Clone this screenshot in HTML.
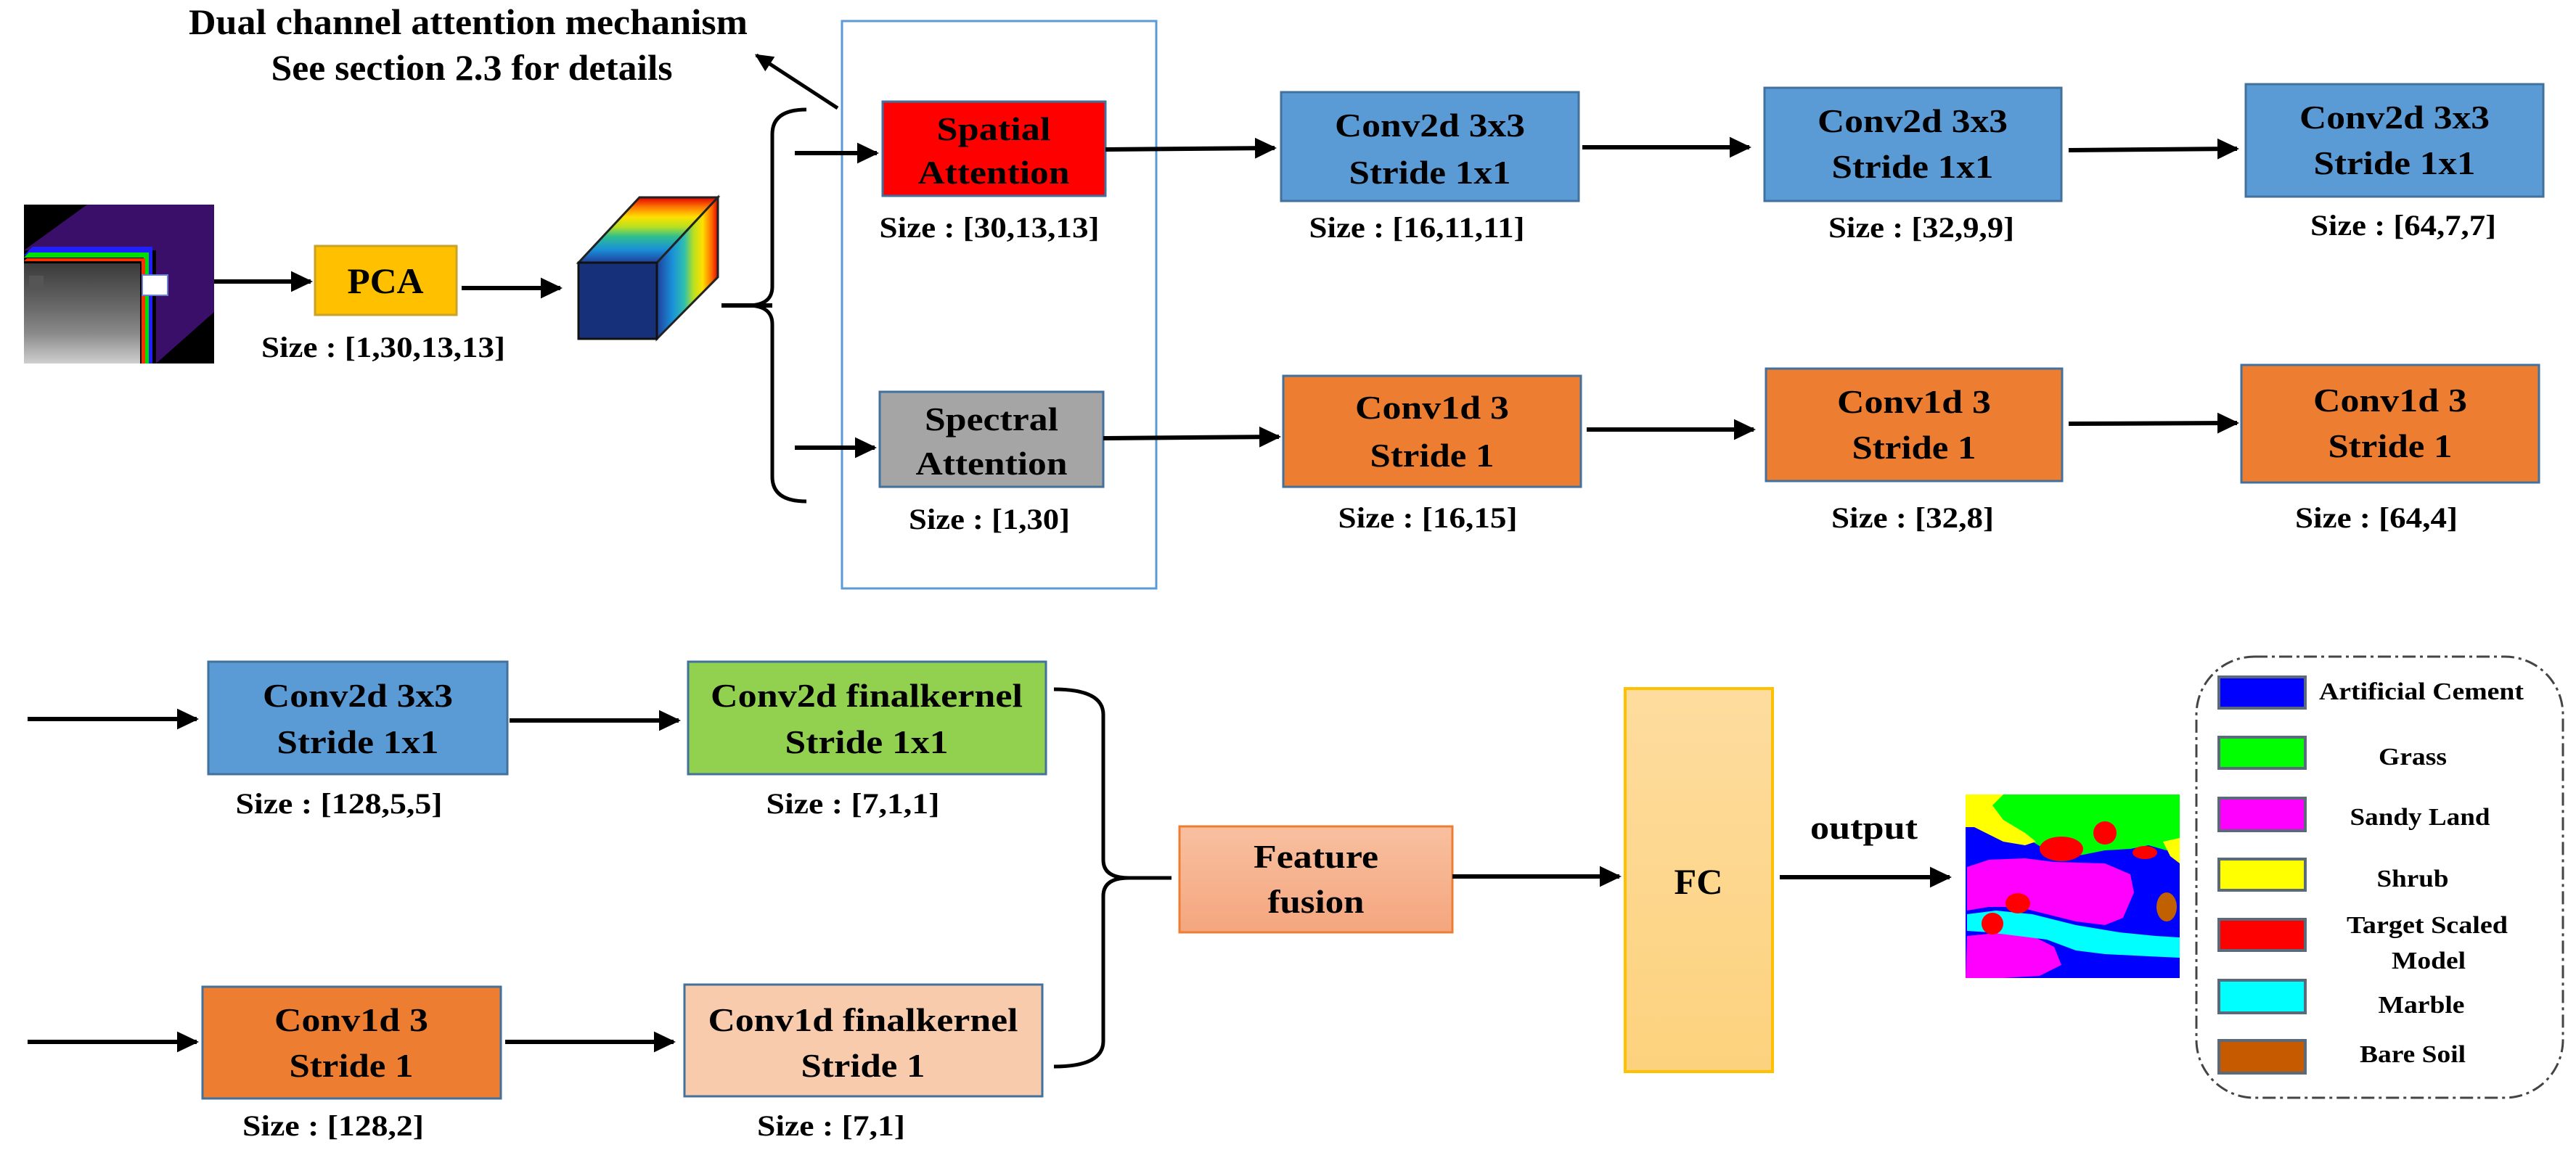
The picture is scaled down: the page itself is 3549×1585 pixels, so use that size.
<!DOCTYPE html>
<html><head><meta charset="utf-8"><style>
html,body{margin:0;padding:0;background:#fff;}
svg{display:block;}
text{font-family:"Liberation Serif",serif;font-weight:bold;fill:#000;}
</style></head><body>
<svg width="3549" height="1585" viewBox="0 0 3549 1585" xmlns="http://www.w3.org/2000/svg">
<defs>
<marker id="ah" markerWidth="6" markerHeight="6" refX="4.5" refY="3" orient="auto" markerUnits="strokeWidth">
<path d="M0,0.6 L5,3 L0,5.4 Z" fill="#000"/>
</marker>
<linearGradient id="topg" x1="0" y1="1" x2="0" y2="0">
<stop offset="0" stop-color="#1f3f9a"/><stop offset="0.2" stop-color="#1a8fd8"/><stop offset="0.4" stop-color="#2fbf8f"/><stop offset="0.55" stop-color="#b8e020"/><stop offset="0.7" stop-color="#ffe000"/><stop offset="0.85" stop-color="#ff7a00"/><stop offset="1" stop-color="#e00000"/>
</linearGradient>
<linearGradient id="sideg" x1="0" y1="0" x2="1" y2="0">
<stop offset="0" stop-color="#1f3f9a"/><stop offset="0.25" stop-color="#1a8fd8"/><stop offset="0.45" stop-color="#2fbfaf"/><stop offset="0.6" stop-color="#b8e020"/><stop offset="0.75" stop-color="#ffe000"/><stop offset="0.9" stop-color="#ff6a00"/><stop offset="1" stop-color="#e00000"/>
</linearGradient>
<linearGradient id="ffg" x1="0" y1="0" x2="0" y2="1"><stop offset="0" stop-color="#f8c0a0"/><stop offset="1" stop-color="#f4a67e"/></linearGradient>
<linearGradient id="fcg" x1="0" y1="0" x2="0" y2="1"><stop offset="0" stop-color="#fddc9e"/><stop offset="1" stop-color="#fdd27e"/></linearGradient>
<linearGradient id="grayg" x1="0" y1="0" x2="0" y2="1"><stop offset="0" stop-color="#3a3a3a"/><stop offset="0.45" stop-color="#6a6a6a"/><stop offset="0.7" stop-color="#8a8a8a"/><stop offset="1" stop-color="#cfcfcf"/></linearGradient>
</defs>

<!-- Title text -->
<text x="645" y="47" font-size="50" text-anchor="middle" textLength="770" lengthAdjust="spacingAndGlyphs">Dual channel attention mechanism</text>
<text x="650" y="110" font-size="50" text-anchor="middle" textLength="553" lengthAdjust="spacingAndGlyphs">See section 2.3 for details</text>
<line x1="1154" y1="149" x2="1042" y2="76" stroke="#000" stroke-width="5" marker-end="url(#ah)"/>

<!-- attention frame -->
<rect x="1160" y="29" width="433" height="782" fill="none" stroke="#5b9bd5" stroke-width="3"/>

<!-- hyperspectral cube image -->
<rect x="33" y="282" width="262" height="219" fill="#000"/>
<polygon points="33,345 120,282 295,282 295,430 215,501 215,345" fill="#3a0f6a"/>
<polygon points="33,352 45,340 210,340 210,501 200,501 200,352" fill="#2020ff"/>
<polygon points="33,355 40,348 205,348 205,501 198,501 198,355" fill="#00e000"/>
<polygon points="33,360 37,356 200,356 200,501 195,501 195,360" fill="#ff3000"/>
<rect x="33" y="363" width="160" height="138" fill="url(#grayg)"/>
<rect x="196" y="379" width="35" height="28" fill="#fff" stroke="#6a7fd0" stroke-width="2"/>
<rect x="40" y="380" width="20" height="20" fill="#555"/>

<line x1="295" y1="388" x2="428" y2="388" stroke="#000" stroke-width="6" marker-end="url(#ah)"/>
<rect x="434" y="339" width="195" height="95" fill="#ffc000" stroke="#c9a227" stroke-width="3"/>
<text x="531" y="404" font-size="50" text-anchor="middle" textLength="105" lengthAdjust="spacingAndGlyphs">PCA</text>
<text x="528" y="492" font-size="40" text-anchor="middle" textLength="336" lengthAdjust="spacingAndGlyphs">Size :  [1,30,13,13]</text>
<line x1="636" y1="397" x2="772" y2="397" stroke="#000" stroke-width="6" marker-end="url(#ah)"/>

<!-- rainbow cube -->
<polygon points="797,362 905,362 989,272 881,272" fill="url(#topg)" stroke="#222" stroke-width="3"/>
<polygon points="905,362 989,272 989,382 905,467" fill="url(#sideg)" stroke="#222" stroke-width="3"/>
<rect x="797" y="362" width="108" height="105" fill="#17307a" stroke="#111" stroke-width="3"/>

<line x1="994" y1="421" x2="1064" y2="421" stroke="#000" stroke-width="6"/>
<path d="M1111,151 Q1064,151 1064,185 L1064,395 Q1064,421 1030,421 M1111,691 Q1064,691 1064,657 L1064,447 Q1064,421 1030,421" fill="none" stroke="#000" stroke-width="5"/>

<line x1="1095" y1="211" x2="1208" y2="211" stroke="#000" stroke-width="6" marker-end="url(#ah)"/>
<line x1="1095" y1="617" x2="1205" y2="617" stroke="#000" stroke-width="6" marker-end="url(#ah)"/>

<rect x="1216" y="140" width="307" height="130" fill="#ff0000" stroke="#41719c" stroke-width="3"/>
<text x="1369" y="193" font-size="46" text-anchor="middle" textLength="157" lengthAdjust="spacingAndGlyphs">Spatial</text>
<text x="1369" y="253" font-size="46" text-anchor="middle" textLength="209" lengthAdjust="spacingAndGlyphs">Attention</text>
<text x="1363" y="327" font-size="40" text-anchor="middle" textLength="303" lengthAdjust="spacingAndGlyphs">Size :  [30,13,13]</text>

<rect x="1212" y="540" width="308" height="131" fill="#a5a5a5" stroke="#41719c" stroke-width="3"/>
<text x="1366" y="593" font-size="46" text-anchor="middle" textLength="184" lengthAdjust="spacingAndGlyphs">Spectral</text>
<text x="1366" y="654" font-size="46" text-anchor="middle" textLength="209" lengthAdjust="spacingAndGlyphs">Attention</text>
<text x="1363" y="729" font-size="40" text-anchor="middle" textLength="222" lengthAdjust="spacingAndGlyphs">Size :  [1,30]</text>

<!-- row 1 conv2d -->
<line x1="1523" y1="206" x2="1756" y2="204" stroke="#000" stroke-width="6" marker-end="url(#ah)"/>
<rect x="1765" y="127" width="410" height="150" fill="#5b9bd5" stroke="#41719c" stroke-width="3"/>
<text x="1970" y="188" font-size="46" text-anchor="middle" textLength="262" lengthAdjust="spacingAndGlyphs">Conv2d 3x3</text>
<text x="1970" y="253" font-size="46" text-anchor="middle" textLength="223" lengthAdjust="spacingAndGlyphs">Stride 1x1</text>
<text x="1952" y="327" font-size="40" text-anchor="middle" textLength="297" lengthAdjust="spacingAndGlyphs">Size :  [16,11,11]</text>

<line x1="2180" y1="203" x2="2410" y2="203" stroke="#000" stroke-width="6" marker-end="url(#ah)"/>
<rect x="2431" y="121" width="409" height="156" fill="#5b9bd5" stroke="#41719c" stroke-width="3"/>
<text x="2635" y="182" font-size="46" text-anchor="middle" textLength="262" lengthAdjust="spacingAndGlyphs">Conv2d 3x3</text>
<text x="2635" y="245" font-size="46" text-anchor="middle" textLength="223" lengthAdjust="spacingAndGlyphs">Stride 1x1</text>
<text x="2647" y="327" font-size="40" text-anchor="middle" textLength="256" lengthAdjust="spacingAndGlyphs">Size :  [32,9,9]</text>

<line x1="2850" y1="207" x2="3082" y2="205" stroke="#000" stroke-width="6" marker-end="url(#ah)"/>
<rect x="3094" y="116" width="410" height="155" fill="#5b9bd5" stroke="#41719c" stroke-width="3"/>
<text x="3299" y="177" font-size="46" text-anchor="middle" textLength="262" lengthAdjust="spacingAndGlyphs">Conv2d 3x3</text>
<text x="3299" y="240" font-size="46" text-anchor="middle" textLength="223" lengthAdjust="spacingAndGlyphs">Stride 1x1</text>
<text x="3311" y="324" font-size="40" text-anchor="middle" textLength="256" lengthAdjust="spacingAndGlyphs">Size :  [64,7,7]</text>

<!-- row 2 conv1d -->
<line x1="1520" y1="604" x2="1762" y2="602" stroke="#000" stroke-width="6" marker-end="url(#ah)"/>
<rect x="1768" y="518" width="410" height="153" fill="#ed7d31" stroke="#41719c" stroke-width="3"/>
<text x="1973" y="577" font-size="46" text-anchor="middle" textLength="212" lengthAdjust="spacingAndGlyphs">Conv1d 3</text>
<text x="1973" y="643" font-size="46" text-anchor="middle" textLength="171" lengthAdjust="spacingAndGlyphs">Stride 1</text>
<text x="1967" y="727" font-size="40" text-anchor="middle" textLength="247" lengthAdjust="spacingAndGlyphs">Size :  [16,15]</text>

<line x1="2186" y1="592" x2="2416" y2="592" stroke="#000" stroke-width="6" marker-end="url(#ah)"/>
<rect x="2433" y="508" width="408" height="155" fill="#ed7d31" stroke="#41719c" stroke-width="3"/>
<text x="2637" y="569" font-size="46" text-anchor="middle" textLength="212" lengthAdjust="spacingAndGlyphs">Conv1d 3</text>
<text x="2637" y="632" font-size="46" text-anchor="middle" textLength="171" lengthAdjust="spacingAndGlyphs">Stride 1</text>
<text x="2635" y="727" font-size="40" text-anchor="middle" textLength="224" lengthAdjust="spacingAndGlyphs">Size :  [32,8]</text>

<line x1="2850" y1="584" x2="3082" y2="583" stroke="#000" stroke-width="6" marker-end="url(#ah)"/>
<rect x="3088" y="503" width="410" height="162" fill="#ed7d31" stroke="#41719c" stroke-width="3"/>
<text x="3293" y="567" font-size="46" text-anchor="middle" textLength="212" lengthAdjust="spacingAndGlyphs">Conv1d 3</text>
<text x="3293" y="630" font-size="46" text-anchor="middle" textLength="171" lengthAdjust="spacingAndGlyphs">Stride 1</text>
<text x="3274" y="727" font-size="40" text-anchor="middle" textLength="224" lengthAdjust="spacingAndGlyphs">Size :  [64,4]</text>

<!-- bottom section -->
<line x1="38" y1="991" x2="271" y2="991" stroke="#000" stroke-width="6" marker-end="url(#ah)"/>
<rect x="287" y="912" width="412" height="155" fill="#5b9bd5" stroke="#41719c" stroke-width="3"/>
<text x="493" y="974" font-size="46" text-anchor="middle" textLength="262" lengthAdjust="spacingAndGlyphs">Conv2d 3x3</text>
<text x="493" y="1038" font-size="46" text-anchor="middle" textLength="223" lengthAdjust="spacingAndGlyphs">Stride 1x1</text>
<text x="467" y="1121" font-size="40" text-anchor="middle" textLength="285" lengthAdjust="spacingAndGlyphs">Size :  [128,5,5]</text>

<line x1="702" y1="993" x2="935" y2="993" stroke="#000" stroke-width="6" marker-end="url(#ah)"/>
<rect x="948" y="912" width="493" height="155" fill="#92d050" stroke="#41719c" stroke-width="3"/>
<text x="1194" y="974" font-size="46" text-anchor="middle" textLength="430" lengthAdjust="spacingAndGlyphs">Conv2d finalkernel</text>
<text x="1194" y="1038" font-size="46" text-anchor="middle" textLength="225" lengthAdjust="spacingAndGlyphs">Stride 1x1</text>
<text x="1175" y="1121" font-size="40" text-anchor="middle" textLength="239" lengthAdjust="spacingAndGlyphs">Size :  [7,1,1]</text>

<line x1="38" y1="1436" x2="271" y2="1436" stroke="#000" stroke-width="6" marker-end="url(#ah)"/>
<rect x="279" y="1360" width="411" height="154" fill="#ed7d31" stroke="#41719c" stroke-width="3"/>
<text x="484" y="1421" font-size="46" text-anchor="middle" textLength="212" lengthAdjust="spacingAndGlyphs">Conv1d 3</text>
<text x="484" y="1484" font-size="46" text-anchor="middle" textLength="171" lengthAdjust="spacingAndGlyphs">Stride 1</text>
<text x="459" y="1565" font-size="40" text-anchor="middle" textLength="250" lengthAdjust="spacingAndGlyphs">Size :  [128,2]</text>

<line x1="696" y1="1436" x2="928" y2="1436" stroke="#000" stroke-width="6" marker-end="url(#ah)"/>
<rect x="943" y="1357" width="493" height="154" fill="#f8cbad" stroke="#41719c" stroke-width="3"/>
<text x="1189" y="1421" font-size="46" text-anchor="middle" textLength="427" lengthAdjust="spacingAndGlyphs">Conv1d finalkernel</text>
<text x="1189" y="1484" font-size="46" text-anchor="middle" textLength="171" lengthAdjust="spacingAndGlyphs">Stride 1</text>
<text x="1145" y="1565" font-size="40" text-anchor="middle" textLength="204" lengthAdjust="spacingAndGlyphs">Size :  [7,1]</text>

<path d="M1452,950 Q1520,950 1520,985 L1520,1185 Q1520,1210 1555,1210 L1614,1210 M1452,1470 Q1520,1470 1520,1435 L1520,1235 Q1520,1210 1555,1210" fill="none" stroke="#000" stroke-width="5"/>

<rect x="1625" y="1139" width="376" height="146" fill="url(#ffg)" stroke="#ed7d31" stroke-width="3"/>
<text x="1813" y="1196" font-size="46" text-anchor="middle" textLength="172" lengthAdjust="spacingAndGlyphs">Feature</text>
<text x="1813" y="1258" font-size="46" text-anchor="middle" textLength="133" lengthAdjust="spacingAndGlyphs">fusion</text>

<line x1="2001" y1="1208" x2="2231" y2="1208" stroke="#000" stroke-width="6" marker-end="url(#ah)"/>
<rect x="2239" y="949" width="203" height="528" fill="url(#fcg)" stroke="#ffc000" stroke-width="4"/>
<text x="2340" y="1232" font-size="50" text-anchor="middle" textLength="67" lengthAdjust="spacingAndGlyphs">FC</text>
<text x="2568" y="1156" font-size="46" text-anchor="middle" textLength="148" lengthAdjust="spacingAndGlyphs">output</text>
<line x1="2452" y1="1209" x2="2686" y2="1209" stroke="#000" stroke-width="6" marker-end="url(#ah)"/>

<!-- classification map -->
<g>
<rect x="2708" y="1095" width="295" height="253" fill="#0000ff"/>
<path d="M2745,1095 L3003,1095 L3003,1170 L2985,1172 L2960,1165 L2935,1170 L2900,1172 L2870,1178 L2845,1182 L2820,1172 L2800,1160 L2780,1152 L2760,1140 L2745,1125 Z" fill="#00ff00"/>
<path d="M2708,1095 L2760,1095 L2745,1110 L2760,1130 L2790,1148 L2805,1160 L2790,1165 L2760,1160 L2740,1150 L2720,1140 L2708,1140 Z" fill="#ffff00"/>
<path d="M2980,1160 L3003,1155 L3003,1190 L2990,1180 Z" fill="#ffff00"/>
<path d="M2710,1195 L2740,1185 L2790,1183 L2830,1188 L2900,1190 L2935,1205 L2940,1230 L2925,1265 L2900,1275 L2860,1270 L2820,1260 L2780,1250 L2740,1250 L2710,1255 Z" fill="#ff00ff"/>
<path d="M2710,1290 L2760,1285 L2800,1290 L2830,1305 L2840,1330 L2810,1345 L2760,1348 L2708,1348 Z" fill="#ff00ff"/>
<path d="M2710,1260 L2750,1255 L2800,1260 L2860,1275 L2920,1285 L2970,1290 L3003,1292 L3003,1320 L2960,1318 L2900,1315 L2860,1310 L2820,1295 L2780,1290 L2740,1285 L2710,1283 Z" fill="#00ffff"/>
<circle cx="2900" cy="1148" r="16" fill="#ff0000"/>
<ellipse cx="2840" cy="1170" rx="30" ry="17" fill="#ff0000"/>
<ellipse cx="2955" cy="1175" rx="17" ry="9" fill="#ff0000"/>
<ellipse cx="2780" cy="1245" rx="17" ry="14" fill="#ff0000"/>
<circle cx="2745" cy="1273" r="15" fill="#ff0000"/>
<ellipse cx="2985" cy="1250" rx="14" ry="20" fill="#c06000"/>
</g>

<!-- legend -->
<rect x="3026" y="905" width="505" height="608" rx="80" ry="80" fill="none" stroke="#444" stroke-width="3" stroke-dasharray="18,6,4,6"/>
<g stroke="#5a6a7a" stroke-width="4">
<rect x="3057" y="933" width="119" height="43" fill="#0000ff"/>
<rect x="3057" y="1016" width="119" height="43" fill="#00ff00"/>
<rect x="3057" y="1100" width="119" height="45" fill="#ff00ff"/>
<rect x="3057" y="1184" width="119" height="43" fill="#ffff00"/>
<rect x="3057" y="1267" width="119" height="43" fill="#ff0000"/>
<rect x="3057" y="1351" width="119" height="45" fill="#00ffff"/>
<rect x="3057" y="1434" width="119" height="45" fill="#c55a00"/>
</g>
<text x="3336" y="964" font-size="34" text-anchor="middle" textLength="282" lengthAdjust="spacingAndGlyphs">Artificial Cement</text>
<text x="3324" y="1054" font-size="34" text-anchor="middle" textLength="94" lengthAdjust="spacingAndGlyphs">Grass</text>
<text x="3334" y="1137" font-size="34" text-anchor="middle" textLength="193" lengthAdjust="spacingAndGlyphs">Sandy Land</text>
<text x="3324" y="1222" font-size="34" text-anchor="middle" textLength="99" lengthAdjust="spacingAndGlyphs">Shrub</text>
<text x="3344" y="1286" font-size="34" text-anchor="middle" textLength="222" lengthAdjust="spacingAndGlyphs">Target Scaled</text>
<text x="3346" y="1335" font-size="34" text-anchor="middle" textLength="102" lengthAdjust="spacingAndGlyphs">Model</text>
<text x="3336" y="1396" font-size="34" text-anchor="middle" textLength="119" lengthAdjust="spacingAndGlyphs">Marble</text>
<text x="3324" y="1464" font-size="34" text-anchor="middle" textLength="146" lengthAdjust="spacingAndGlyphs">Bare Soil</text>
</svg>
</body></html>
